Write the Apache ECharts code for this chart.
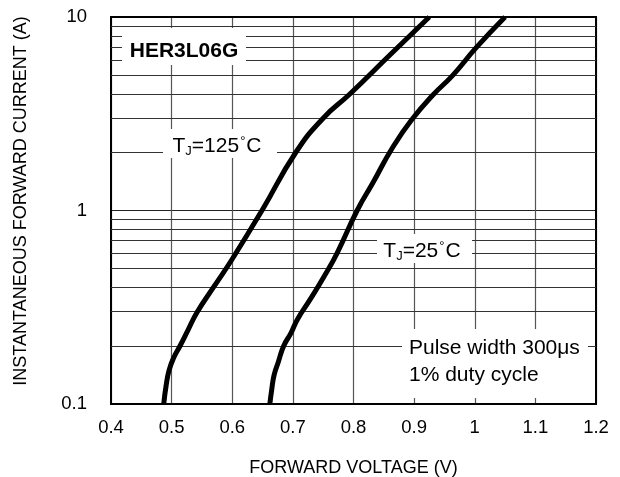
<!DOCTYPE html>
<html>
<head>
<meta charset="utf-8">
<script src="https://cdn.jsdelivr.net/npm/echarts@6/dist/echarts.min.js"></script>
<style>
html,body{margin:0;padding:0;background:#fff;}
#c{width:620px;height:477px;}
</style>
</head>
<body>
<div id="c"></div>
<script>
// Forward voltage (V) and current (A)
var tj125V = [0.487, 0.491, 0.496, 0.504, 0.514, 0.527, 0.542, 0.570, 0.599, 0.649, 0.705, 0.750, 0.794, 0.860, 0.925];
var tj125I = [0.1,   0.125, 0.150, 0.175, 0.2,   0.241, 0.298, 0.405, 0.555, 1.0,   2.0,   3.0,   4.0,   6.36,  10];
var tj25V  = [0.662, 0.665, 0.669, 0.676, 0.685, 0.697, 0.707, 0.728, 0.750, 0.773, 0.806, 0.832, 0.865, 0.898, 0.931, 0.964, 1.002, 1.050];
var tj25I  = [0.1,   0.118, 0.141, 0.165, 0.2,   0.233, 0.272, 0.345, 0.448, 0.603, 1.0,   1.39,  2.13,  3.0,   3.95,  5.01,  6.92,  10];
var minorGridValues = [0.2, 0.3, 0.4, 0.5, 0.6, 0.7, 0.8, 0.9, 2, 3, 4, 5, 6, 7, 8, 9];
var xTicks = [0.4, 0.5, 0.6, 0.7, 0.8, 0.9, 1, 1.1, 1.2];
var yTicks = [0.1, 1, 10];

function zip(a, b) { return a.map(function (v, i) { return [v, b[i]]; }); }

var FONT = "'Liberation Sans', Arial, sans-serif";
var chart = echarts.init(document.getElementById('c'), null, {renderer: 'canvas'});

var subRich = {
  m: {fontSize: 21, fontFamily: FONT, color: '#000'},
  s: {fontSize: 13, fontFamily: FONT, color: '#000', padding: [10, 0, 0, 0]},
  d: {fontSize: 13, fontFamily: FONT, color: '#000', padding: [0, 1, 10, 1]}
};

chart.setOption({
  animation: false,
  backgroundColor: '#fff',
  grid: {left: 111, right: 24, top: 17, bottom: 73, show: true, borderColor: '#000', borderWidth: 2, z: 3,
    containLabel: false, outerBoundsMode: 'none'},
  xAxis: {
    type: 'value', min: xTicks[0], max: xTicks[xTicks.length - 1], interval: 0.1,
    axisLine: {show: true, lineStyle: {color: '#000', width: 2}},
    axisTick: {show: false},
    axisLabel: {margin: 14, fontSize: 18.5, fontFamily: FONT, color: '#000',
      formatter: function (v) { return String(Math.round(v * 10) / 10); }},
    splitLine: {show: true, lineStyle: {color: '#555', width: 1.2}},
    name: 'FORWARD VOLTAGE (V)', nameLocation: 'middle', nameGap: 55,
    nameTextStyle: {fontSize: 18, fontFamily: FONT, color: '#000'}
  },
  yAxis: {
    type: 'log', logBase: 10, min: yTicks[0], max: yTicks[yTicks.length - 1],
    axisLine: {show: true, lineStyle: {color: '#000', width: 2}},
    axisTick: {show: false},
    axisLabel: {margin: 24, fontSize: 18.5, fontFamily: FONT, color: '#000',
      formatter: function (v) { return String(v); }},
    splitLine: {show: true, lineStyle: {color: '#222', width: 1}}
  },
  series: [
    {
      type: 'line', data: [], z: 1, silent: true,
      markLine: {
        silent: true, symbol: ['none', 'none'], animation: false,
        label: {show: false},
        lineStyle: {color: '#333', width: 1, type: 'solid'},
        data: minorGridValues.map(function (v) { return {yAxis: v}; })
      }
    },
    {
      name: 'TJ=125C', type: 'line', data: zip(tj125V, tj125I), z: 5,
      smooth: 0.5, showSymbol: false, clip: true,
      lineStyle: {color: '#000', width: 5}
    },
    {
      name: 'TJ=25C', type: 'line', data: zip(tj25V, tj25I), z: 5,
      smooth: 0.5, showSymbol: false, clip: true,
      lineStyle: {color: '#000', width: 5}
    }
  ],
  graphic: [
    {type: 'text', x: 21, y: 201, rotation: Math.PI / 2, z: 100,
      style: {text: 'INSTANTANEOUS FORWARD CURRENT (A)', fontSize: 18, fontFamily: FONT, fill: '#000',
        textAlign: 'center', textVerticalAlign: 'middle'}},
    {type: 'rect', z: 100, shape: {x: 122, y: 28, width: 124, height: 37}, style: {fill: '#fff'}},
    {type: 'text', z: 101, x: 184, y: 51, style: {text: 'HER3L06G', fontSize: 21, fontWeight: 'bold', fontFamily: FONT, fill: '#000', textAlign: 'center', textVerticalAlign: 'middle'}},
    {type: 'rect', z: 100, shape: {x: 163, y: 129, width: 114, height: 29}, style: {fill: '#fff'}},
    {type: 'text', z: 101, x: 217, y: 146, style: {text: '{m|T}{s|J}{m|=125}{d|°}{m|C}', rich: subRich, textAlign: 'center', textVerticalAlign: 'middle'}},
    {type: 'rect', z: 100, shape: {x: 377, y: 234, width: 95, height: 29}, style: {fill: '#fff'}},
    {type: 'text', z: 101, x: 422, y: 251, style: {text: '{m|T}{s|J}{m|=25}{d|°}{m|C}', rich: subRich, textAlign: 'center', textVerticalAlign: 'middle'}},
    {type: 'rect', z: 100, shape: {x: 402, y: 329, width: 186, height: 69}, style: {fill: '#fff'}},
    {type: 'text', z: 101, x: 409, y: 348, style: {text: 'Pulse width 300μs', fontSize: 21, fontFamily: FONT, fill: '#000', textAlign: 'left', textVerticalAlign: 'middle'}},
    {type: 'text', z: 101, x: 409, y: 375, style: {text: '1% duty cycle', fontSize: 21, fontFamily: FONT, fill: '#000', textAlign: 'left', textVerticalAlign: 'middle'}}
  ]
});
</script>
</body>
</html>
